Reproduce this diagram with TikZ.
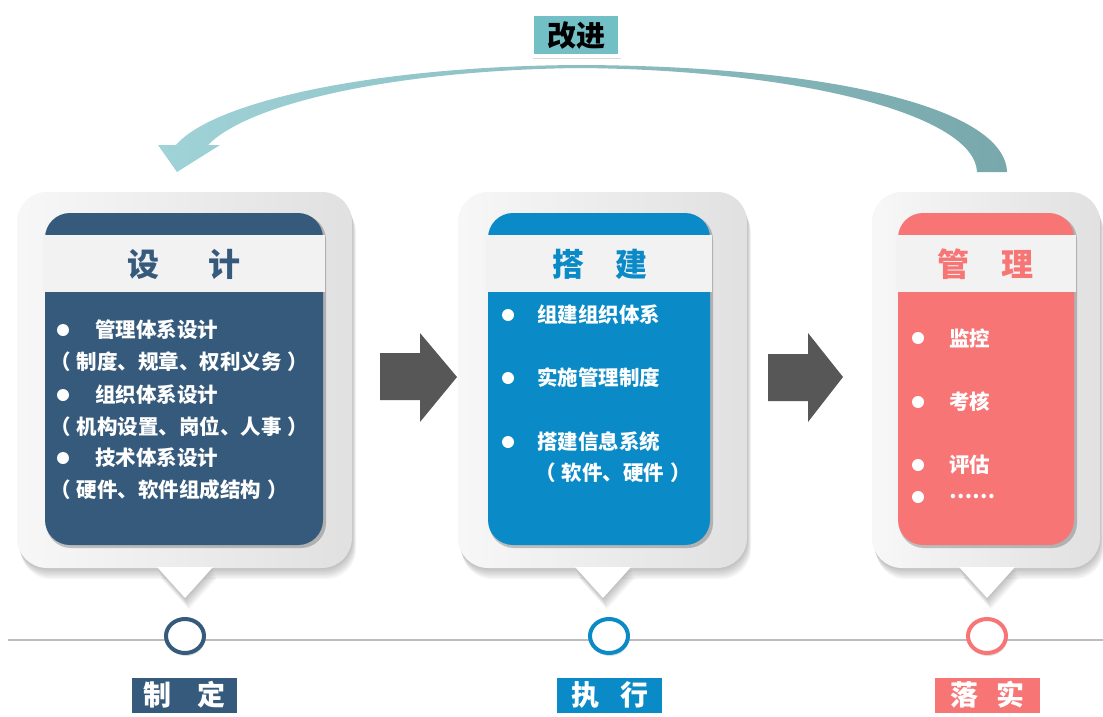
\documentclass[tikz,border=0pt]{standalone}
\usepackage{fontspec}
\setmainfont{Noto Sans CJK SC}
\usetikzlibrary{shadows,shapes.geometric}
\definecolor{dblue}{HTML}{355A7C}
\definecolor{mblue}{HTML}{0A8AC6}
\definecolor{salmon}{HTML}{F87575}
\definecolor{band}{HTML}{F2F2F2}
\definecolor{garrow}{HTML}{575757}
\definecolor{tealbox}{HTML}{72BFC6}
\definecolor{arcL}{HTML}{9FD3D8}
\definecolor{arcR}{HTML}{78A8AB}
\definecolor{tline}{HTML}{BDBDBD}
\newcommand\lp{（\hspace{6pt}}
\newcommand\rp{\hspace{6pt}）}
\tikzset{
 itemtxt/.style={anchor=west, inner sep=0pt, text=white, font=\bfseries\fontsize{20.5}{24}\selectfont},
 bulletdot/.style={circle, fill=white, minimum size=12pt, inner sep=0pt},
 headtxt/.style={inner sep=0pt, font=\bfseries\fontsize{32}{38}\selectfont},
 lblbox/.style={draw=white, line width=3pt, text=white, minimum width=108pt, minimum height=38pt, inner sep=0pt, font=\bfseries\fontsize{28}{32}\selectfont, drop shadow={opacity=0.22, shadow xshift=1pt, shadow yshift=-2pt}},
 ring/.style={ellipse, draw, line width=4pt, fill=white, minimum width=38pt, minimum height=34pt, inner sep=0pt, drop shadow={opacity=0.25, shadow xshift=1pt, shadow yshift=-3pt}},
 grarrow/.style={fill=garrow},
}
\newcommand\drawcard[6]{%
  \foreach \k in {1,...,8}{%
    \fill[black, opacity=0.03, shift={(\k*0.5,\k*1.4)}, rounded corners=30pt] (#1,192) rectangle (#2,568);
    \fill[black, opacity=0.03, shift={(\k*0.5,\k*1.4)}] (#3-28,567) -- (#3,598) -- (#3+28,567) -- cycle;
  }
  \shade[left color=gray!6, middle color=white, right color=gray!24, rounded corners=30pt] (#1,192) rectangle (#2,568);
  \fill[white] (#3-28,567) -- (#3,598) -- (#3+28,567) -- cycle;
  \fill[black, opacity=0.22, rounded corners=25pt] (#4+1,215) rectangle (#5+3,548);
  \fill[#6, rounded corners=25pt] (#4,213) rectangle (#5,545);
  \fill[band] (#4-2,235) rectangle (#5+2,292);
}
\begin{document}
\begin{tikzpicture}[x=1pt,y=-1pt]
\useasboundingbox (0,0) rectangle (1103,717);
\fill[white] (0,0) rectangle (1103,717);

% feedback arc
\shade[left color=arcL, right color=arcR]
  (1007,172) .. controls (1005,108) and (830,66) .. (580,65)
  .. controls (380,66) and (215,100) .. (176,145)
  -- (158,145) -- (177,172) -- (220,145) -- (208,145)
  .. controls (250,102) and (400,70) .. (580,68)
  .. controls (800,70) and (975,115) .. (977,172) -- cycle;

\node[fill=tealbox, draw=white, line width=4pt, minimum width=88pt, minimum height=42pt, inner sep=0pt,
  font=\bfseries\fontsize{29}{32}\selectfont, drop shadow={opacity=0.28, shadow xshift=1pt, shadow yshift=-3pt}]
  (gaijin) at (576,35.5) {改进};

% timeline
\draw[tline, line width=2pt] (8,640) coordinate (tl0) -- (1103,640) coordinate (tl1);

% cards
\drawcard{17}{352}{185}{45}{323}{dblue}
\drawcard{458}{747}{603}{488}{710}{mblue}
\drawcard{872}{1100}{987}{898}{1074}{salmon}

% grey arrows
\fill[grarrow] (380,353) -- (420,353) -- (420,333) -- (457,377) -- (420,422) -- (420,400) -- (380,400) -- cycle;
\fill[grarrow] (768,354) -- (808,354) -- (808,333) -- (843,377) -- (808,422) -- (808,401) -- (768,401) -- cycle;

% headers
\node[headtxt, text=dblue] (h1) at (184,264) {设\hspace{50pt}计};
\node[headtxt, text=mblue] (h2) at (600,264) {搭\hspace{31pt}建};
\node[headtxt, text=salmon] (h3) at (985,264) {管\hspace{32pt}理};

% card 1 items
\node[bulletdot] (b11) at (63,330) {};
\node[itemtxt] (t11) at (95,330) {管理体系设计};
\node[itemtxt] (s11) at (50,362) {\lp 制度、规章、权利义务\rp};
\node[bulletdot] (b12) at (63,395) {};
\node[itemtxt] (t12) at (95,395) {组织体系设计};
\node[itemtxt] (s12) at (50,427) {\lp 机构设置、岗位、人事\rp};
\node[bulletdot] (b13) at (63,458) {};
\node[itemtxt] (t13) at (95,458) {技术体系设计};
\node[itemtxt] (s13) at (50,490) {\lp 硬件、软件组成结构\rp};

% card 2 items
\node[bulletdot] (b21) at (508,315) {};
\node[itemtxt] (t21) at (537,315) {组建组织体系};
\node[bulletdot] (b22) at (508,378) {};
\node[itemtxt] (t22) at (537,378) {实施管理制度};
\node[bulletdot] (b23) at (508,442) {};
\node[itemtxt] (t23) at (537,442) {搭建信息系统};
\node[itemtxt] (s23) at (535,473) {\lp 软件、硬件\rp};

% card 3 items
\node[bulletdot] (b31) at (918,338) {};
\node[itemtxt] (t31) at (949,338) {监控};
\node[bulletdot] (b32) at (918,402) {};
\node[itemtxt] (t32) at (949,402) {考核};
\node[bulletdot] (b33) at (918,465) {};
\node[itemtxt] (t33) at (949,465) {评估};
\node[bulletdot] (b34) at (918,497) {};
\node[itemtxt] (t34) at (949,497) {……};

% rings
\node[ring, draw=dblue] (r1) at (185,636) {};
\node[ring, draw=mblue] (r2) at (609,636) {};
\node[ring, draw=salmon] (r3) at (987,636) {};

% labels
\node[lblbox, fill=dblue] (l1) at (184.5,695) {制\hspace{27pt}定};
\node[lblbox, fill=mblue] (l2) at (609.5,695) {执\hspace{21pt}行};
\node[lblbox, fill=salmon] (l3) at (987.5,695) {落\hspace{19pt}实};
\end{tikzpicture}
\end{document}
